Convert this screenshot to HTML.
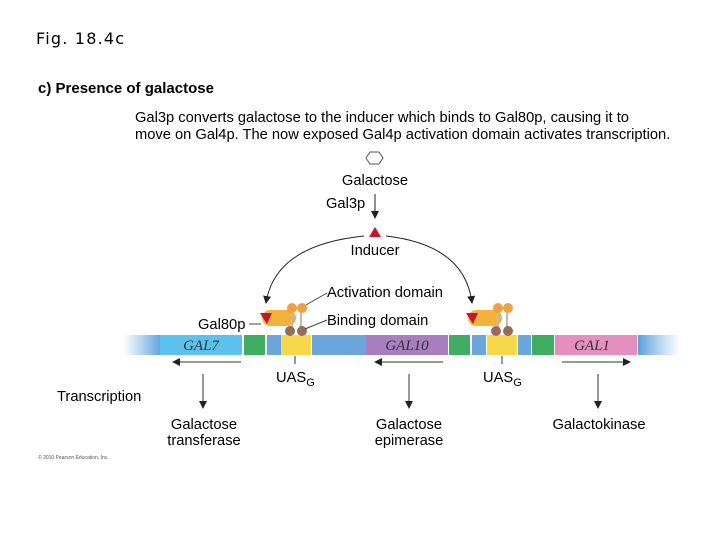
<!DOCTYPE html>
<html><head><style>
body{margin:0;background:#fff;}
svg text{font-family:"Liberation Sans",sans-serif;}
</style></head><body>
<svg width="720" height="540" viewBox="0 0 720 540" xmlns="http://www.w3.org/2000/svg">
<defs>
<linearGradient id="fl" x1="0" x2="1"><stop offset="0" stop-color="#6fb0e0" stop-opacity="0"/><stop offset="1" stop-color="#5b9fdc"/></linearGradient>
<linearGradient id="fr" x1="0" x2="1"><stop offset="0" stop-color="#5b9fdc"/><stop offset="1" stop-color="#6fb0e0" stop-opacity="0"/></linearGradient>
<marker id="ah" markerWidth="8" markerHeight="8" refX="7" refY="4" orient="auto" markerUnits="userSpaceOnUse"><path d="M0,0 L8,4 L0,8 z" fill="#222"/></marker>
</defs>
<text x="36" y="44" style="font-family:'DejaVu Sans',sans-serif" font-size="16" letter-spacing="1.2">Fig. 18.4c</text>
<text x="38" y="93" font-size="15" font-weight="bold">c) Presence of galactose</text>
<text x="135" y="122" font-size="14.7">Gal3p converts galactose to the inducer which binds to Gal80p, causing it to</text>
<text x="135" y="139" font-size="14.7">move on Gal4p. The now exposed Gal4p activation domain activates transcription.</text>
<polygon points="370,164 379,164 383,158 379,152 370,152 366,158" fill="none" stroke="#555"/>
<text x="375" y="185" font-size="14.7" text-anchor="middle">Galactose</text>
<text x="326" y="208" font-size="14.7">Gal3p</text>
<line x1="375" y1="194" x2="375" y2="218" stroke="#222" marker-end="url(#ah)"/>
<polygon points="375,227 369,237 381,237" fill="#c0162e"/>
<text x="375" y="255" font-size="14.7" text-anchor="middle">Inducer</text>
<path d="M364,236 Q275,245 266,303" fill="none" stroke="#222" marker-end="url(#ah)"/>
<path d="M386,236 Q465,245 472,303" fill="none" stroke="#222" marker-end="url(#ah)"/>
<rect x="122" y="335" width="40" height="20" fill="url(#fl)"/>
<rect x="160" y="335" width="82" height="20" fill="#5bc2ee"/>
<rect x="244" y="335" width="21" height="20" fill="#3fae62"/>
<rect x="267" y="335" width="14" height="20" fill="#6aa6dc"/>
<rect x="281" y="335" width="30" height="20" fill="#f6d84a"/>
<rect x="312" y="335" width="54" height="20" fill="#6aa6dc"/>
<rect x="366" y="335" width="82" height="20" fill="#a77fc0"/>
<rect x="449" y="335" width="21" height="20" fill="#3fae62"/>
<rect x="472" y="335" width="14" height="20" fill="#6aa6dc"/>
<rect x="487" y="335" width="30" height="20" fill="#f6d84a"/>
<rect x="518" y="335" width="13" height="20" fill="#6aa6dc"/>
<rect x="532" y="335" width="22" height="20" fill="#3fae62"/>
<rect x="555" y="335" width="82" height="20" fill="#e58fbf"/>
<rect x="638" y="335" width="42" height="20" fill="url(#fr)"/>
<g font-style="italic" font-size="15" fill="#333">
<text x="201" y="350" text-anchor="middle" style="font-family:'Liberation Serif',serif">GAL7</text>
<text x="407" y="350" text-anchor="middle" style="font-family:'Liberation Serif',serif">GAL10</text>
<text x="592" y="350" text-anchor="middle" style="font-family:'Liberation Serif',serif">GAL1</text>
</g>
<g id="p1">
<rect x="262" y="310" width="34" height="16" rx="8" fill="#f3b23a"/>
<line x1="292" y1="310" x2="292" y2="328" stroke="#bbb" stroke-width="2"/>
<line x1="301" y1="310" x2="301" y2="328" stroke="#bbb" stroke-width="2"/>
<circle cx="292" cy="308" r="5" fill="#f0a040"/><circle cx="302" cy="308" r="5" fill="#f0a040"/>
<circle cx="290" cy="331" r="5" fill="#9b6a55"/><circle cx="302" cy="331" r="5" fill="#9b6a55"/>
<polygon points="260,313 272,313 267,324" fill="#c0162e"/>
</g>
<use href="#p1" transform="translate(206,0)"/>
<text x="198" y="329" font-size="14.7">Gal80p</text>
<line x1="249" y1="324" x2="261" y2="324" stroke="#444"/>
<text x="327" y="297" font-size="14.7">Activation domain</text>
<line x1="306" y1="305" x2="327" y2="293" stroke="#444"/>
<text x="327" y="325" font-size="14.7">Binding domain</text>
<line x1="305" y1="329" x2="327" y2="320" stroke="#444"/>
<line x1="241" y1="362" x2="173" y2="362" stroke="#333" marker-end="url(#ah)"/>
<line x1="443" y1="362" x2="375" y2="362" stroke="#333" marker-end="url(#ah)"/>
<line x1="562" y1="362" x2="630" y2="362" stroke="#333" marker-end="url(#ah)"/>
<line x1="295" y1="356" x2="295" y2="364" stroke="#333"/>
<line x1="502" y1="356" x2="502" y2="364" stroke="#333"/>
<text x="276" y="382" font-size="14.7">UAS<tspan font-size="11" dy="4">G</tspan></text>
<text x="483" y="382" font-size="14.7">UAS<tspan font-size="11" dy="4">G</tspan></text>
<line x1="203" y1="374" x2="203" y2="408" stroke="#333" marker-end="url(#ah)"/>
<line x1="409" y1="374" x2="409" y2="408" stroke="#333" marker-end="url(#ah)"/>
<line x1="598" y1="374" x2="598" y2="408" stroke="#333" marker-end="url(#ah)"/>
<text x="57" y="401" font-size="14.7">Transcription</text>
<text x="204" y="429" font-size="14.7" text-anchor="middle">Galactose</text>
<text x="204" y="445" font-size="14.7" text-anchor="middle">transferase</text>
<text x="409" y="429" font-size="14.7" text-anchor="middle">Galactose</text>
<text x="409" y="445" font-size="14.7" text-anchor="middle">epimerase</text>
<text x="599" y="429" font-size="14.7" text-anchor="middle">Galactokinase</text>
<text x="38" y="459" font-size="5" fill="#555">© 2010 Pearson Education, Inc.</text>
</svg>
</body></html>
